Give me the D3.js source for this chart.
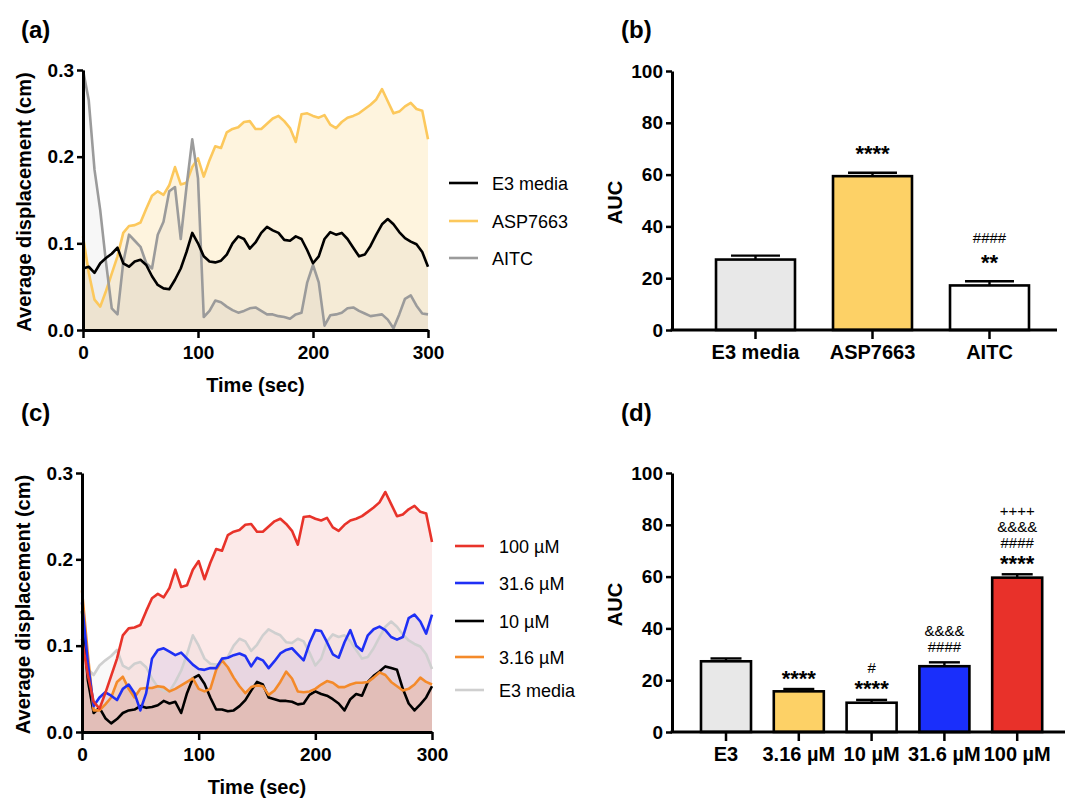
<!DOCTYPE html>
<html>
<head>
<meta charset="utf-8">
<script src="https://cdn.jsdelivr.net/npm/d3@7"></script>
<style>
  body { margin: 0; background: #fff; }
  text { font-family: Arial, "Liberation Sans", Helvetica, sans-serif; }
</style>
</head>
<body>
<svg id="fig" width="1072" height="798"></svg>
<script>
// time grid (sec), one reading every 5 s
const time = d3.range(0, 301, 5);

// average displacement (cm)
const e3Media = [0.071,0.073,0.066,0.077,0.083,0.088,0.095,0.077,0.073,0.079,
  0.081,0.075,0.062,0.052,0.048,0.047,0.058,0.071,0.090,0.112,
  0.100,0.085,0.079,0.078,0.080,0.087,0.100,0.108,0.105,0.094,
  0.101,
  0.112,0.119,0.115,0.112,0.104,0.103,0.108,0.105,0.092,0.077,
  0.085,0.105,0.113,0.110,0.112,0.105,0.095,0.085,0.087,0.097,
  0.110,0.122,0.128,0.122,0.113,0.106,0.102,0.099,0.090,0.073];
const asp7663 = [0.108,0.066,0.035,0.027,0.045,0.065,0.085,0.112,0.120,0.121,
  0.124,0.140,0.155,0.160,0.156,0.167,0.188,0.168,0.170,0.188,
  0.198,0.177,0.196,0.212,0.210,0.228,0.232,0.234,0.240,0.241,
  0.232,
  0.232,0.238,0.244,0.247,0.241,0.233,0.217,0.249,0.250,0.247,
  0.245,0.248,0.237,0.233,0.240,0.245,0.247,0.250,0.255,0.260,
  0.266,0.278,0.264,0.250,0.252,0.258,0.262,0.255,0.253,0.220];
const aitc = [0.300,0.265,0.185,0.138,0.078,0.025,0.018,0.078,0.110,0.103,
  0.096,0.077,0.071,0.110,0.125,0.160,0.165,0.105,0.165,0.220,
  0.175,0.015,0.022,0.034,0.032,0.027,0.023,0.020,0.022,0.025,
  0.026,
  0.022,0.018,0.018,0.016,0.015,0.013,0.018,0.020,0.055,0.075,
  0.055,0.005,0.017,0.018,0.020,0.025,0.026,0.022,0.019,0.016,
  0.017,0.018,0.012,0.002,0.018,0.036,0.040,0.028,0.019,0.018];
const conc316 = [0.164,0.090,0.025,0.025,0.032,0.040,0.058,0.064,0.050,0.040,
  0.050,0.051,0.051,0.053,0.052,0.047,0.050,0.054,0.058,0.062,
  0.050,0.047,0.050,0.072,0.083,0.075,0.063,0.053,0.045,0.052,
  0.054,
  0.053,0.043,0.048,0.058,0.070,0.062,0.047,0.046,0.047,0.050,
  0.055,0.059,0.057,0.052,0.052,0.055,0.057,0.057,0.058,0.063,
  0.069,0.066,0.058,0.053,0.048,0.050,0.055,0.063,0.058,0.055];
const conc10 = [0.140,0.060,0.022,0.028,0.016,0.010,0.015,0.022,0.025,0.026,
  0.030,0.028,0.029,0.031,0.036,0.033,0.035,0.022,0.045,0.062,
  0.066,0.056,0.040,0.026,0.026,0.024,0.025,0.030,0.037,0.048,
  0.058,
  0.055,0.040,0.038,0.036,0.036,0.035,0.032,0.033,0.043,0.047,
  0.044,0.042,0.038,0.033,0.025,0.038,0.044,0.042,0.058,0.065,
  0.070,0.076,0.074,0.072,0.050,0.033,0.025,0.032,0.040,0.053];
const conc316b = [0.150,0.080,0.030,0.040,0.046,0.042,0.037,0.050,0.055,0.045,
  0.025,0.045,0.085,0.095,0.097,0.093,0.089,0.092,0.085,0.078,
  0.073,0.072,0.074,0.074,0.085,0.086,0.089,0.091,0.088,0.076,
  0.086,
  0.083,0.074,0.082,0.091,0.095,0.097,0.090,0.083,0.103,0.118,
  0.117,0.104,0.090,0.086,0.104,0.118,0.100,0.094,0.112,0.119,
  0.122,0.118,0.110,0.107,0.110,0.132,0.136,0.128,0.114,0.136];
// 100 uM trace is the ASP7663 trace, E3 media is the same control

// AUC bars
const groupsB = ["E3 media", "ASP7663", "AITC"];
const aucB = [27.2, 59.4, 17.2];
const semB = [1.5, 1.3, 1.6];
const marksB = [[], ["****"], ["####", "**"]];

const groupsD = ["E3", "3.16 \u00b5M", "10 \u00b5M", "31.6 \u00b5M", "100 \u00b5M"];
const aucD = [27.3, 15.7, 11.3, 25.4, 59.6];
const semD = [1.1, 0.9, 1.1, 1.5, 1.3];
const marksD = [[], ["****"], ["#", "****"], ["&&&&", "####"], ["++++", "&&&&", "####", "****"]];

const timeTicks = [0, 100, 200, 300];
const dispTicks = [0, 0.1, 0.2, 0.3];
const aucTicks = [0, 20, 40, 60, 80, 100];

const svg = d3.select("#fig");

function styleAxis(g, size) {
  g.attr("font-family", null);
  g.select(".domain").attr("stroke-width", 3);
  g.selectAll(".tick line").attr("stroke-width", 2.5);
  g.selectAll(".tick text").attr("font-size", size).attr("font-weight", "bold").attr("fill", "#000");
}

function panelLabel(txt, x, y) {
  svg.append("text").attr("x", x).attr("y", y).attr("font-size", 24)
    .attr("font-weight", "bold").text(txt);
}

// line panels with shaded areas
function drawTrace(box, series, legend) {
  const x = d3.scaleLinear().domain([0, 300]).range([box.x0, box.x1]);
  const y = d3.scaleLinear().domain([0, 0.3]).range([box.y1, box.y0]);
  const g = svg.append("g");

  const area = d3.area().x((d, i) => x(time[i])).y0(y(0)).y1(d => y(d));
  const line = d3.line().x((d, i) => x(time[i])).y(d => y(d));

  series.forEach(s => {
    g.append("path").datum(s.values).attr("d", area)
      .attr("fill", s.color).attr("fill-opacity", s.fillOp);
  });
  series.forEach(s => {
    g.append("path").datum(s.values).attr("d", line)
      .attr("fill", "none").attr("stroke", s.color).attr("stroke-width", 2.6)
      .attr("stroke-linejoin", "round");
  });

  const gx = svg.append("g").attr("transform", `translate(0,${box.y1})`)
    .call(d3.axisBottom(x).tickValues(timeTicks).tickSize(8).tickPadding(8).tickSizeOuter(0));
  styleAxis(gx, 19);
  const gy = svg.append("g").attr("transform", `translate(${box.x0},0)`)
    .call(d3.axisLeft(y).tickValues(dispTicks).tickFormat(d3.format(".1f")).tickSize(6).tickPadding(3).tickSizeOuter(0));
  styleAxis(gy, 19);

  svg.append("text").attr("x", (box.x0 + box.x1) / 2).attr("y", box.y1 + 62)
    .attr("text-anchor", "middle").attr("font-size", 20).attr("font-weight", "bold")
    .text("Time (sec)");
  svg.append("text")
    .attr("transform", `translate(${box.x0 - 52},${(box.y0 + box.y1) / 2 + 2}) rotate(-90)`)
    .attr("text-anchor", "middle").attr("font-size", 20).attr("font-weight", "bold")
    .text("Average displacement (cm)");

  legend.rows.forEach((r, i) => {
    const ly = legend.ys[i];
    svg.append("line").attr("x1", legend.lx).attr("x2", legend.lx + 29)
      .attr("y1", ly).attr("y2", ly).attr("stroke", r.color).attr("stroke-width", 2.6);
    svg.append("text").attr("x", legend.tx).attr("y", ly + 6.5)
      .attr("font-size", 18).text(r.name);
  });
}

// bar panels with sem and significance marks
function drawBars(box, groups, means, sems, colors, marks, mk) {
  const x = d3.scaleBand().domain(groups).range([box.b0, box.b1])
    .paddingInner(box.pi).paddingOuter(box.pi / 2);
  const y = d3.scaleLinear().domain([0, 100]).range([box.y1, box.y0]);
  const bw = x.bandwidth();

  svg.append("g").selectAll("rect").data(groups).join("rect")
    .attr("x", d => x(d)).attr("width", bw)
    .attr("y", (d, i) => y(means[i])).attr("height", (d, i) => y(0) - y(means[i]))
    .attr("fill", (d, i) => colors[i]).attr("stroke", "#000").attr("stroke-width", 2.6);

  const eb = svg.append("g").attr("stroke", "#000").attr("stroke-width", 2.4);
  groups.forEach((d, i) => {
    const cx = x(d) + bw / 2;
    eb.append("line").attr("x1", cx).attr("x2", cx)
      .attr("y1", y(means[i])).attr("y2", y(means[i] + sems[i]));
    eb.append("line").attr("x1", cx - bw * 0.31).attr("x2", cx + bw * 0.31)
      .attr("y1", y(means[i] + sems[i])).attr("y2", y(means[i] + sems[i]));
  });

  groups.forEach((d, i) => {
    const cx = x(d) + bw / 2;
    const capY = y(means[i] + sems[i]);
    const rows = marks[i].slice().reverse();
    rows.forEach((m, j) => {
      const cy = capY - mk.off - j * mk.gap;
      const star = m[0] === "*";
      svg.append("text").attr("x", cx).attr("y", star ? cy + 12.5 : cy + 5.5)
        .attr("text-anchor", "middle")
        .attr("font-size", star ? 22 : 15)
        .attr("font-weight", star ? "bold" : "normal")
        .text(m);
    });
  });

  const gx = svg.append("g").attr("transform", `translate(0,${box.y1})`)
    .call(d3.axisBottom(x).tickSize(9).tickPadding(6));
  styleAxis(gx, 20);
  gx.select(".domain").remove();
  svg.append("line").attr("x1", box.ax - 1.5).attr("x2", box.xEnd)
    .attr("y1", box.y1).attr("y2", box.y1).attr("stroke", "#000").attr("stroke-width", 3);

  const gy = svg.append("g").attr("transform", `translate(${box.ax},0)`)
    .call(d3.axisLeft(y).tickValues(aucTicks).tickSize(6).tickPadding(3).tickSizeOuter(0));
  styleAxis(gy, 19);

  svg.append("text")
    .attr("transform", `translate(${box.ax - 50},${(box.y0 + box.y1) / 2 + 2}) rotate(-90)`)
    .attr("text-anchor", "middle").attr("font-size", 20).attr("font-weight", "bold")
    .text("AUC");
}

// (a)
drawTrace({ x0: 83, x1: 428, y0: 70, y1: 330 }, [
  { values: asp7663, color: "#fcc85c", fillOp: 0.2 },
  { values: aitc, color: "#9b9b9b", fillOp: 0.08 },
  { values: e3Media, color: "#000000", fillOp: 0.035 }
], {
  lx: 449, tx: 492, ys: [183, 221, 258],
  rows: [{ name: "E3 media", color: "#000" }, { name: "ASP7663", color: "#fcc85c" }, { name: "AITC", color: "#9b9b9b" }]
});

// (c)
drawTrace({ x0: 82, x1: 432, y0: 473, y1: 732 }, [
  { values: e3Media, color: "#cfcfcf", fillOp: 0.12 },
  { values: conc10, color: "#000000", fillOp: 0.03 },
  { values: conc316, color: "#f48a2a", fillOp: 0.2 },
  { values: conc316b, color: "#1f30f5", fillOp: 0.07 },
  { values: asp7663, color: "#e8332a", fillOp: 0.11 }
], {
  lx: 455, tx: 499, ys: [546, 583, 621, 657, 690],
  rows: [{ name: "100 \u00b5M", color: "#e8332a" }, { name: "31.6 \u00b5M", color: "#1f30f5" },
    { name: "10 \u00b5M", color: "#000" }, { name: "3.16 \u00b5M", color: "#f48a2a" },
    { name: "E3 media", color: "#cfcfcf" }]
});

// (b)
drawBars({ ax: 672, xEnd: 1057, b0: 697, b1: 1048, pi: 0.325, y0: 71, y1: 330 },
  groupsB, aucB, semB, ["#e8e8e8", "#fdd166", "#ffffff"], marksB, { off: 24, gap: 20 });

// (d)
drawBars({ ax: 672, xEnd: 1065, b0: 689.6, b1: 1053.6, pi: 0.313, y0: 473, y1: 732 },
  groupsD, aucD, semD, ["#e8e8e8", "#fdd166", "#ffffff", "#1a2ffb", "#e8312a"], marksD, { off: 16, gap: 16 });

panelLabel("(a)", 21, 38);
panelLabel("(b)", 621, 38);
panelLabel("(c)", 21, 421);
panelLabel("(d)", 621, 421);
</script>
</body>
</html>
